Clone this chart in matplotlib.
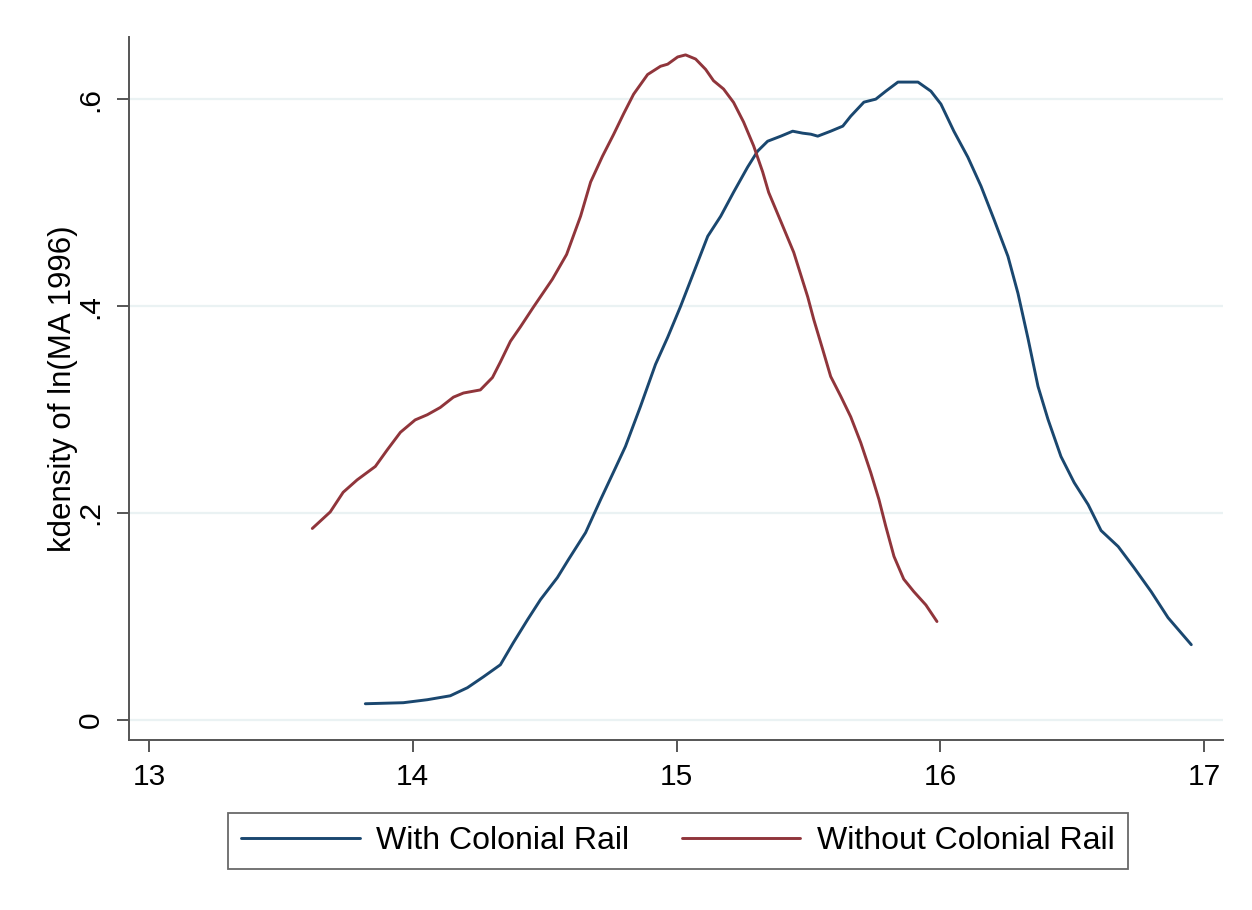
import matplotlib.pyplot as plt
import numpy as np

plt.rcParams['font.family'] = ['Liberation Sans', 'DejaVu Sans']

# kdensity of ln(MA 1996)
x_with = [13.820, 13.964, 14.055, 14.142, 14.207, 14.268, 14.332, 14.381, 14.435, 14.484,
          14.548, 14.590, 14.655, 14.712, 14.769, 14.806, 14.863, 14.920, 14.966, 15.015,
          15.065, 15.118, 15.167, 15.216, 15.269, 15.307, 15.345, 15.395, 15.440, 15.478,
          15.509, 15.535, 15.584, 15.630, 15.660, 15.710, 15.755, 15.793, 15.839, 15.915,
          15.964, 16.002, 16.051, 16.104, 16.154, 16.203, 16.256, 16.294, 16.332, 16.370,
          16.408, 16.457, 16.507, 16.560, 16.609, 16.674, 16.734, 16.799, 16.863, 16.951]
y_with = [0.0155, 0.0165, 0.0194, 0.0232, 0.0310, 0.0416, 0.0532, 0.0745, 0.0968, 0.1162,
          0.1375, 0.1549, 0.1810, 0.2130, 0.2440, 0.2643, 0.3030, 0.3437, 0.3698, 0.3998,
          0.4327, 0.4676, 0.4869, 0.5102, 0.5344, 0.5499, 0.5595, 0.5644, 0.5692, 0.5673,
          0.5663, 0.5644, 0.5692, 0.5741, 0.5837, 0.5973, 0.6002, 0.6079, 0.6167, 0.6167,
          0.6079, 0.5954, 0.5692, 0.5441, 0.5160, 0.4840, 0.4482, 0.4124, 0.3688, 0.3224,
          0.2904, 0.2546, 0.2294, 0.2081, 0.1830, 0.1675, 0.1471, 0.1239, 0.0987, 0.0726]

x_without = [13.619, 13.687, 13.736, 13.789, 13.858, 13.903, 13.953, 14.009, 14.055, 14.104,
             14.154, 14.192, 14.256, 14.302, 14.332, 14.370, 14.408, 14.457, 14.529, 14.583,
             14.636, 14.674, 14.719, 14.761, 14.799, 14.837, 14.890, 14.939, 14.966, 15.004,
             15.034, 15.072, 15.110, 15.140, 15.178, 15.216, 15.254, 15.292, 15.326, 15.349,
             15.395, 15.444, 15.497, 15.520, 15.554, 15.584, 15.622, 15.660, 15.698, 15.736,
             15.767, 15.793, 15.824, 15.861, 15.899, 15.945, 15.987]
y_without = [0.185, 0.201, 0.220, 0.232, 0.245, 0.261, 0.278, 0.290, 0.295, 0.302,
             0.312, 0.316, 0.319, 0.331, 0.346, 0.366, 0.380, 0.399, 0.426, 0.450,
             0.487, 0.520, 0.545, 0.566, 0.586, 0.605, 0.624, 0.632, 0.634, 0.641,
             0.643, 0.639, 0.629, 0.618, 0.610, 0.597, 0.578, 0.555, 0.530, 0.510,
             0.482, 0.452, 0.409, 0.387, 0.358, 0.332, 0.313, 0.293, 0.268, 0.239,
             0.213, 0.187, 0.158, 0.136, 0.124, 0.111, 0.095]

xticks = [13, 14, 15, 16, 17]
yticks = [0, 0.2, 0.4, 0.6]
ytick_labels = ['0', '.2', '.4', '.6']

fig = plt.figure(figsize=(12.52, 9.10), dpi=100)
ax = fig.add_axes([0.103, 0.187, 0.874, 0.772])

ax.plot(x_with, y_with, color='#1a476f', lw=2.1, label='With Colonial Rail',
        solid_joinstyle='round', solid_capstyle='round')
ax.plot(x_without, y_without, color='#90353b', lw=2.1, label='Without Colonial Rail',
        solid_joinstyle='round', solid_capstyle='round')

ax.set_xlim(12.924, 17.072)
ax.set_ylim(-0.0194, 0.66)
ax.set_xticks(xticks)
ax.set_yticks(yticks)
ax.set_yticklabels(ytick_labels, rotation=90, va='center')
ax.grid(axis='y', color='#eaf2f3', lw=1.6)
ax.set_axisbelow(True)

for s in ['top', 'right']:
    ax.spines[s].set_visible(False)
for s in ['left', 'bottom']:
    ax.spines[s].set_color('#555555')
    ax.spines[s].set_linewidth(1.4)
ax.tick_params(axis='both', length=8.5, width=1.4, color='#555555', labelsize=21.5)
ax.tick_params(axis='y', pad=9)
ax.tick_params(axis='x', pad=8)
ax.set_ylabel('kdensity of ln(MA 1996)', fontsize=22.5, labelpad=-1)

leg = fig.legend(loc='center', bbox_to_anchor=(0.5415, 0.0758), ncol=2, fontsize=23,
                 frameon=True, fancybox=False, handlelength=3.7, handletextpad=0.53,
                 columnspacing=1.63, borderpad=0.42)
leg.get_frame().set_edgecolor('#444444')
leg.get_frame().set_linewidth(1.3)

fig.savefig('out.png', dpi=100)
